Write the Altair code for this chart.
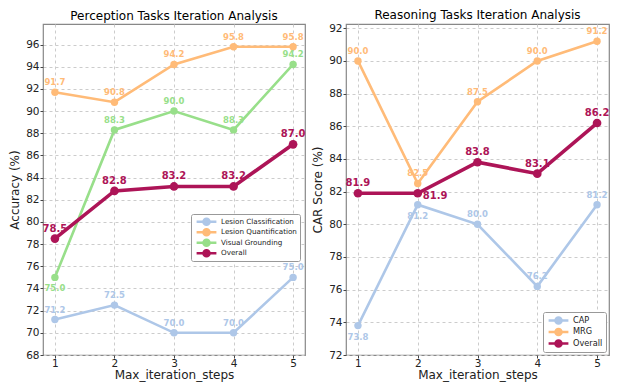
import altair as alt
import pandas as pd

steps = [1, 2, 3, 4, 5]

# Perception panel
p_series = ["Lesion Classification", "Lesion Quantification", "Visual Grounding", "Overall"]
p_values = {
    "Lesion Classification": [71.2, 72.5, 70.0, 70.0, 75.0],
    "Lesion Quantification": [91.7, 90.8, 94.2, 95.8, 95.8],
    "Visual Grounding": [75.0, 88.3, 90.0, 88.3, 94.2],
    "Overall": [78.5, 82.8, 83.2, 83.2, 87.0],
}
p_pos = {
    "Lesion Classification": ["above"] * 5,
    "Lesion Quantification": ["above"] * 5,
    "Visual Grounding": ["below", "above", "above", "above", "above"],
    "Overall": ["above"] * 5,
}
p_colors = ["#aec7e8", "#ffbb78", "#98df8a", "#ad1457"]

# Reasoning panel
r_series = ["CAP", "MRG", "Overall"]
r_values = {
    "CAP": [73.8, 81.2, 80.0, 76.2, 81.2],
    "MRG": [90.0, 82.5, 87.5, 90.0, 91.2],
    "Overall": [81.9, 81.9, 83.8, 83.1, 86.2],
}
r_pos = {
    "CAP": ["below", "below", "above", "above", "above"],
    "MRG": ["above"] * 5,
    "Overall": ["above", "right", "above", "above", "above"],
}
r_colors = ["#aec7e8", "#ffbb78", "#ad1457"]

FONT = "DejaVu Sans"
LEGEND_SYMBOL = "M-3.3,0L-1,0M1,0L3.3,0M1,0A1,1,0,1,1,-1,0A1,1,0,1,1,1,0Z"


def make_df(series, values, pos):
    rows = []
    for s in series:
        for i, st in enumerate(steps):
            rows.append({"step": st, "value": values[s][i], "series": s,
                         "pos": pos[s][i], "overall": s == "Overall",
                         "label": f"{values[s][i]:.1f}"})
    return pd.DataFrame(rows)


def panel(series, values, pos, colors, ydomain, yticks, ytitle, title, lx, ly, w, h, lfs, clip):
    df = make_df(series, values, pos)
    color_scale = alt.Scale(domain=series, range=colors)
    x = alt.X("step:Q", scale=alt.Scale(domain=[0.8, 5.2], nice=False, zero=False),
              axis=alt.Axis(values=steps, title="Max_iteration_steps", format="d"))
    y = alt.Y("value:Q", scale=alt.Scale(domain=ydomain, nice=False, zero=False),
              axis=alt.Axis(values=yticks, title=ytitle))
    legend = alt.Legend(title=None, orient="none", legendX=lx, legendY=ly,
                        symbolType=LEGEND_SYMBOL, symbolSize=36, symbolStrokeWidth=2.6,
                        labelFontSize=lfs, labelFont=FONT, labelColor="#222", rowPadding=0.5,
                        clipHeight=clip,
                        strokeColor="#999", fillColor="white", padding=3, cornerRadius=2,
                        symbolOffset=8, labelOffset=10)
    cenc = alt.Color("series:N", scale=color_scale, legend=legend, sort=series)
    base = alt.Chart(df).encode(x=x, y=y)
    lines = base.mark_line(strokeWidth=2.6).encode(color=cenc).transform_filter("!datum.overall")
    line_o = base.mark_line(strokeWidth=3.6).encode(color=cenc).transform_filter("datum.overall")
    pts = base.mark_point(filled=True, opacity=1, size=55).encode(
        color=cenc).transform_filter("!datum.overall")
    pts_o = base.mark_point(filled=True, opacity=1, size=75).encode(
        color=cenc).transform_filter("datum.overall")

    def txt(flt, size, **kw):
        return base.mark_text(font=FONT, fontWeight="bold", fontSize=size, **kw).encode(
            text="label:N",
            color=alt.Color("series:N", scale=color_scale, legend=None),
        ).transform_filter(flt)

    texts = [
        txt("!datum.overall && datum.pos == 'above'", 8.5, dy=-10),
        txt("!datum.overall && datum.pos == 'below'", 8.5, dy=11),
        txt("datum.overall && datum.pos == 'above'", 10, dy=-10),
        txt("datum.overall && datum.pos == 'right'", 10, dx=5, dy=3, align="left"),
    ]
    return alt.layer(lines, line_o, pts, pts_o, *texts).properties(
        width=w, height=h,
        title=alt.TitleParams(title, font=FONT, fontSize=12, fontWeight="normal", offset=1),
    )


H = 331
left = panel(p_series, p_values, p_pos, p_colors, [68, 97.85], list(range(68, 97, 2)),
             "Accuracy (%)", "Perception Tasks Iteration Analysis", 148, 190, 262, H, 7.2, 9.5)
right = panel(r_series, r_values, r_pos, r_colors, [72, 92.26], list(range(72, 93, 2)),
              "CAR Score (%)", "Reasoning Tasks Iteration Analysis", 197, 288, 263, H, 8.2, 11)

chart = alt.hconcat(left, right, spacing=4).resolve_scale(color="independent").properties(
    padding=0
).configure_view(stroke="#888", strokeWidth=1.2).configure_axis(
    labelFont=FONT, titleFont=FONT, labelFontSize=10.5, titleFontSize=12,
    titleFontWeight="normal",
    labelColor="#222", titleColor="#222", domain=False, tickColor="#444", tickSize=3,
    gridDash=[3, 3], gridColor="#ccc", labelPadding=1, titlePadding=2,
).configure_axisX(labelPadding=0, titlePadding=1).configure_axisY(titlePadding=4)

chart.save("out.html", embed_options={"renderer": "svg", "actions": False})
